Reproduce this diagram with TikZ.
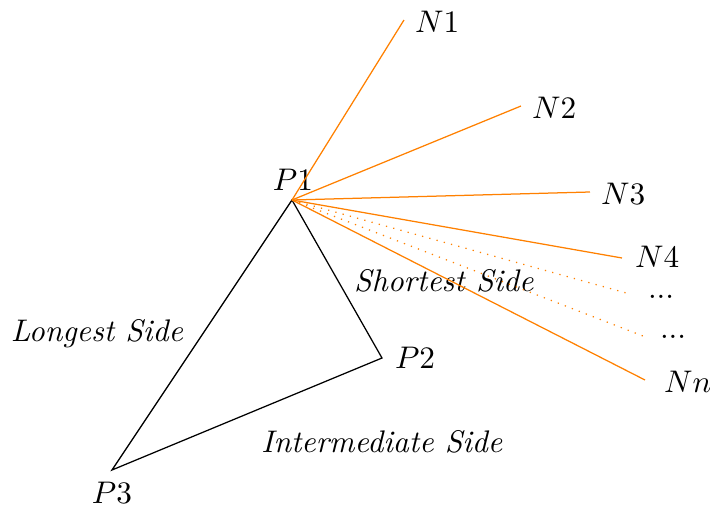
\documentclass[tikz,border=0pt]{standalone}
\usepackage{tikz}
\usetikzlibrary{positioning}

\begin{document}
\begin{tikzpicture}[x=0.32pt,y=-0.32pt,
  side/.style={black},
  ray/.style={orange},
  rayfaint/.style={orange,dotted},
  lbl/.style={inner sep=3.33pt}]
\useasboundingbox (0,0) rectangle (710,506);
% triangle
\coordinate (P1) at (292,200);
\coordinate (P2) at (382,358);
\coordinate (P3) at (112,470);
\draw[side] (P1) -- (P2) -- (P3) -- cycle;
\node[lbl] (lP1) at (293,180) {$P1$};
\node[lbl,anchor=west] (lP2) at (384,358) {$P2$};
\node[lbl] (lP3) at (112,493) {$P3$};
\node[lbl] (longest) at (97,334) {\textit{Longest Side}};
\node[lbl] (shortest) at (444,281) {\textit{Shortest Side}};
\node[lbl] (inter) at (382,442) {\textit{Intermediate Side}};
% neighbours
\coordinate (e1) at (404,20);
\coordinate (e2) at (521,106);
\coordinate (e3) at (590,192);
\coordinate (e4) at (622,258);
\coordinate (e5) at (630,294);
\coordinate (e6) at (643,336);
\coordinate (en) at (645,380);
\node[lbl,anchor=west] (N1) at (404,22) {$N1$};
\node[lbl,anchor=west] (N2) at (521,108) {$N2$};
\node[lbl,anchor=west] (N3) at (590,194) {$N3$};
\node[lbl,anchor=west] (N4) at (624,257) {$N4$};
\node[lbl,anchor=west] (D1) at (637,297) {...};
\node[lbl,anchor=west] (D2) at (649,337) {...};
\node[lbl,anchor=west] (Nn) at (653,382) {$Nn$};
\foreach \e in {e1,e2,e3,e4,en}
  \draw[ray] (P1) -- (\e);
\foreach \e in {e5,e6}
  \draw[rayfaint] (P1) -- (\e);
\end{tikzpicture}
\end{document}
